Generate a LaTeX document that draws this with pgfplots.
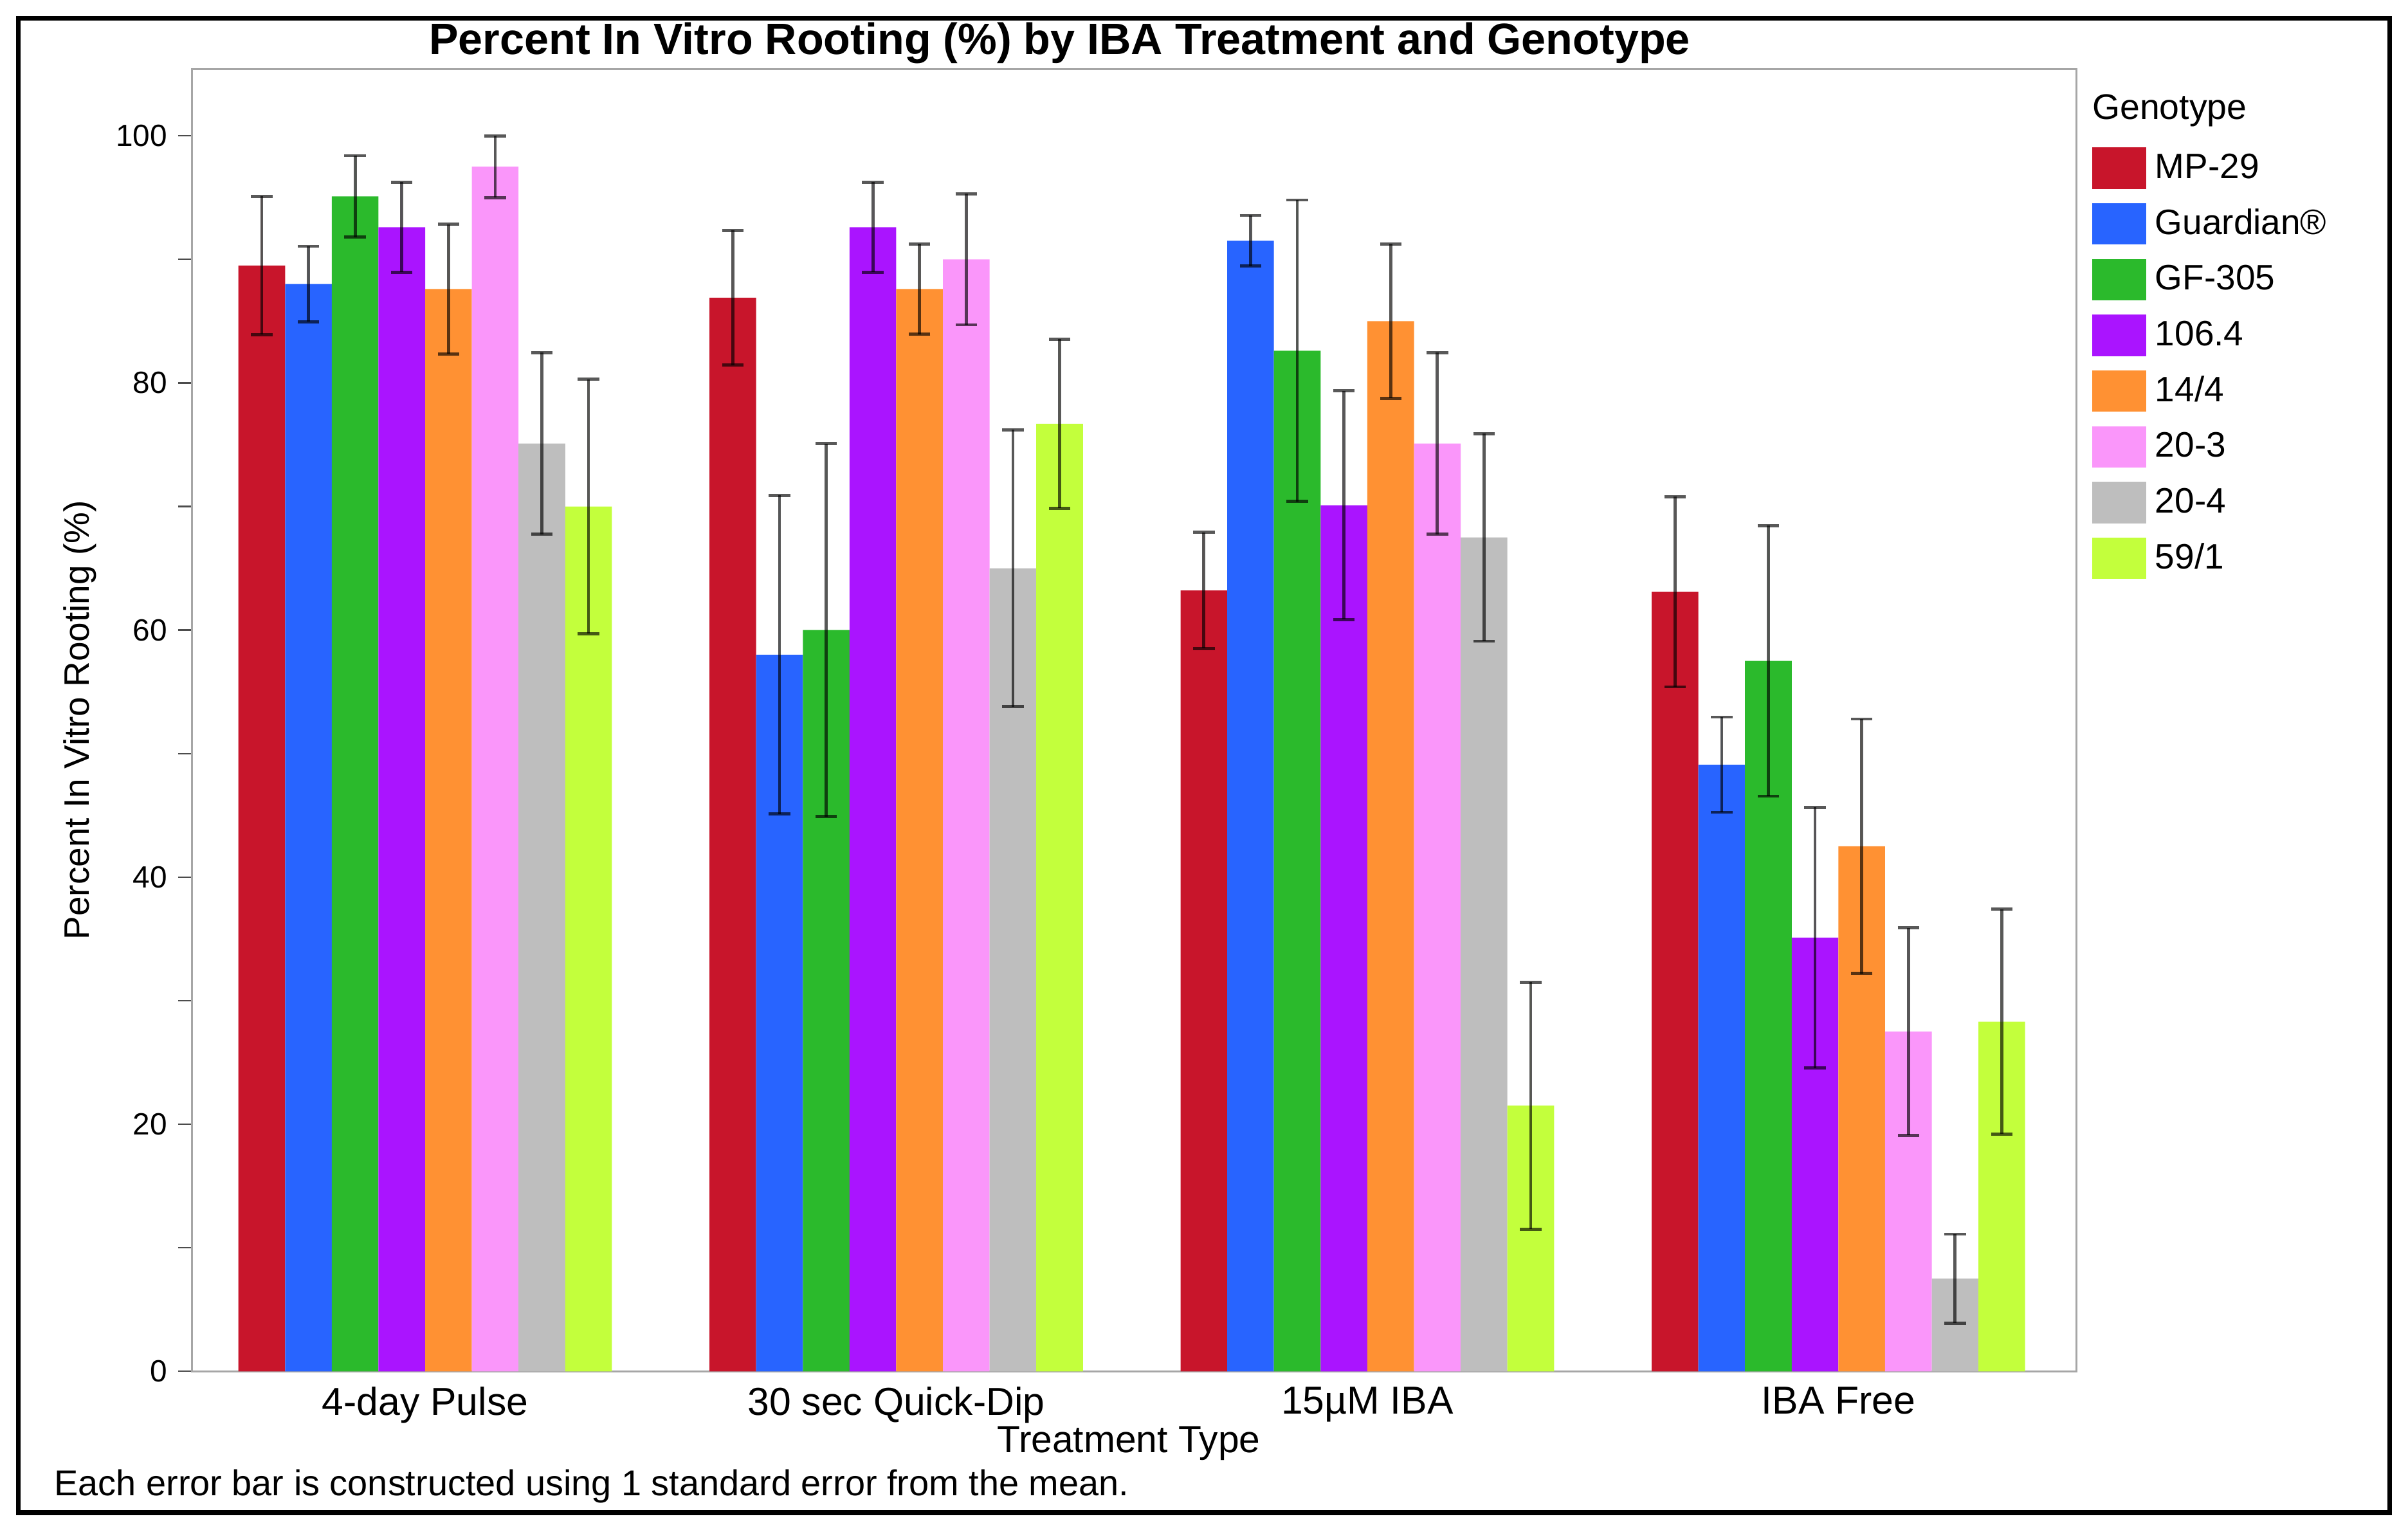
\documentclass[border=0pt]{standalone}
\usepackage{fontspec}
\setmainfont{Liberation Sans}
\usepackage{pgfplots}
\pgfplotsset{compat=1.18}

\definecolor{cMP}{RGB}{200,21,43}
\definecolor{cGU}{RGB}{40,100,255}
\definecolor{cGF}{RGB}{43,186,44}
\definecolor{cPU}{RGB}{170,20,255}
\definecolor{cOR}{RGB}{255,145,51}
\definecolor{cPK}{RGB}{250,150,250}
\definecolor{cGR}{RGB}{190,190,190}
\definecolor{cLI}{RGB}{195,255,60}

\begin{document}
\begin{tikzpicture}
\useasboundingbox (-62.5pt,-51.5pt) rectangle (721.5pt,446.5pt);
\begin{axis}[
    at={(0,0)}, anchor=south west,
    scale only axis,
    width=613.5pt, height=424pt,
    ybar=0pt, bar width=15.2pt,
    xmin=-0.495, xmax=3.505, ymin=0, ymax=105.4,
    xtick={0,1,2,3},
    xticklabels={4-day Pulse, 30 sec Quick-Dip, 15µM IBA, IBA Free},
    x tick style={draw=none},
    ytick={0,20,...,100},
    minor ytick={10,30,...,90},
    ytick pos=left, tick align=outside,
    major tick length=4.5pt, minor tick length=4.5pt,
    axis line style={draw=black!35, line width=0.6pt},
    y tick style={draw=black!70, line width=0.5pt},
    /pgf/number format/assume math mode=true,
    yticklabel style={font=\fontsize{10}{12}\selectfont},
    xticklabel style={font=\fontsize{12.7}{14}\selectfont, yshift=3pt},
    title={Percent In Vitro Rooting (\%) by IBA Treatment and Genotype},
    title style={font=\bfseries\fontsize{14.3}{16}\selectfont,
        at={(axis description cs:0.4605,1)}, anchor=center, yshift=2.5pt},
    ylabel={Percent In Vitro Rooting (\%)},
    ylabel style={font=\fontsize{11.5}{13}\selectfont,
        at={(axis description cs:-0.0595,0.5)}, anchor=center},
    xlabel={Treatment Type},
    xlabel style={font=\fontsize{12.3}{14}\selectfont,
        at={(axis description cs:0.4971,-0.0554)}, anchor=center},
    error bars/y dir=both,
    error bars/y explicit,
    error bars/error bar style={draw=black, draw opacity=0.65, line width=1pt},
    error bars/error mark options={rotate=90, mark size=3.5pt, draw=black, draw opacity=0.65, line width=1pt},
    area legend,
    legend image code/.code={\fill[#1] (0pt,-6.75pt) rectangle (17.5pt,6.75pt);},
    legend style={at={(axis description cs:1,1)}, anchor=north west,
        xshift=5pt, yshift=-25.3pt, draw=none, fill=none,
        inner sep=0pt, row sep=4.65pt,
        font=\fontsize{11.5}{13}\selectfont,
        nodes={inner sep=0pt},
        /tikz/every odd column/.append style={column sep=3pt}},
    legend cell align=left,
]
% MP-29
\addplot[fill=cMP, draw=none] coordinates {
    (0,89.5) +- (0,5.6)
    (1,86.9) +- (0,5.45)
    (2,63.2) +- (0,4.7)
    (3,63.1) +- (0,7.7)
};
\addlegendentry{MP-29}
% Guardian
\addplot[fill=cGU, draw=none] coordinates {
    (0,88.0) +- (0,3.05)
    (1,58.0) +- (0,12.9)
    (2,91.5) +- (0,2.05)
    (3,49.1) +- (0,3.85)
};
\addlegendentry{Guardian®}
% GF-305
\addplot[fill=cGF, draw=none] coordinates {
    (0,95.1) +- (0,3.3)
    (1,60.0) +- (0,15.1)
    (2,82.6) +- (0,12.2)
    (3,57.5) +- (0,10.95)
};
\addlegendentry{GF-305}
% 106.4
\addplot[fill=cPU, draw=none] coordinates {
    (0,92.6) +- (0,3.65)
    (1,92.6) +- (0,3.65)
    (2,70.1) +- (0,9.25)
    (3,35.1) +- (0,10.55)
};
\addlegendentry{106.4}
% 14/4
\addplot[fill=cOR, draw=none] coordinates {
    (0,87.6) +- (0,5.25)
    (1,87.6) +- (0,3.65)
    (2,85.0) +- (0,6.25)
    (3,42.5) +- (0,10.3)
};
\addlegendentry{14/4}
% 20-3
\addplot[fill=cPK, draw=none] coordinates {
    (0,97.5) +- (0,2.5)
    (1,90.0) +- (0,5.3)
    (2,75.1) +- (0,7.35)
    (3,27.5) +- (0,8.4)
};
\addlegendentry{20-3}
% 20-4
\addplot[fill=cGR, draw=none] coordinates {
    (0,75.1) +- (0,7.35)
    (1,65.0) +- (0,11.2)
    (2,67.5) +- (0,8.4)
    (3,7.5) +- (0,3.6)
};
\addlegendentry{20-4}
% 59/1
\addplot[fill=cLI, draw=none] coordinates {
    (0,70.0) +- (0,10.3)
    (1,76.7) +- (0,6.85)
    (2,21.5) +- (0,10.0)
    (3,28.3) +- (0,9.1)
};
\addlegendentry{59/1}
\end{axis}
\node[anchor=west, inner sep=0pt, font=\fontsize{11.6}{13}\selectfont] at (618.5pt,410.5pt) {Genotype};
\node[anchor=west, inner sep=0pt, font=\fontsize{11.7}{13}\selectfont] at (-45pt,-37.5pt) {Each error bar is constructed using 1 standard error from the mean.};
\draw[line width=1.5pt] (-56.5pt,-46pt) rectangle (715.5pt,440.5pt);
\end{tikzpicture}
\end{document}
